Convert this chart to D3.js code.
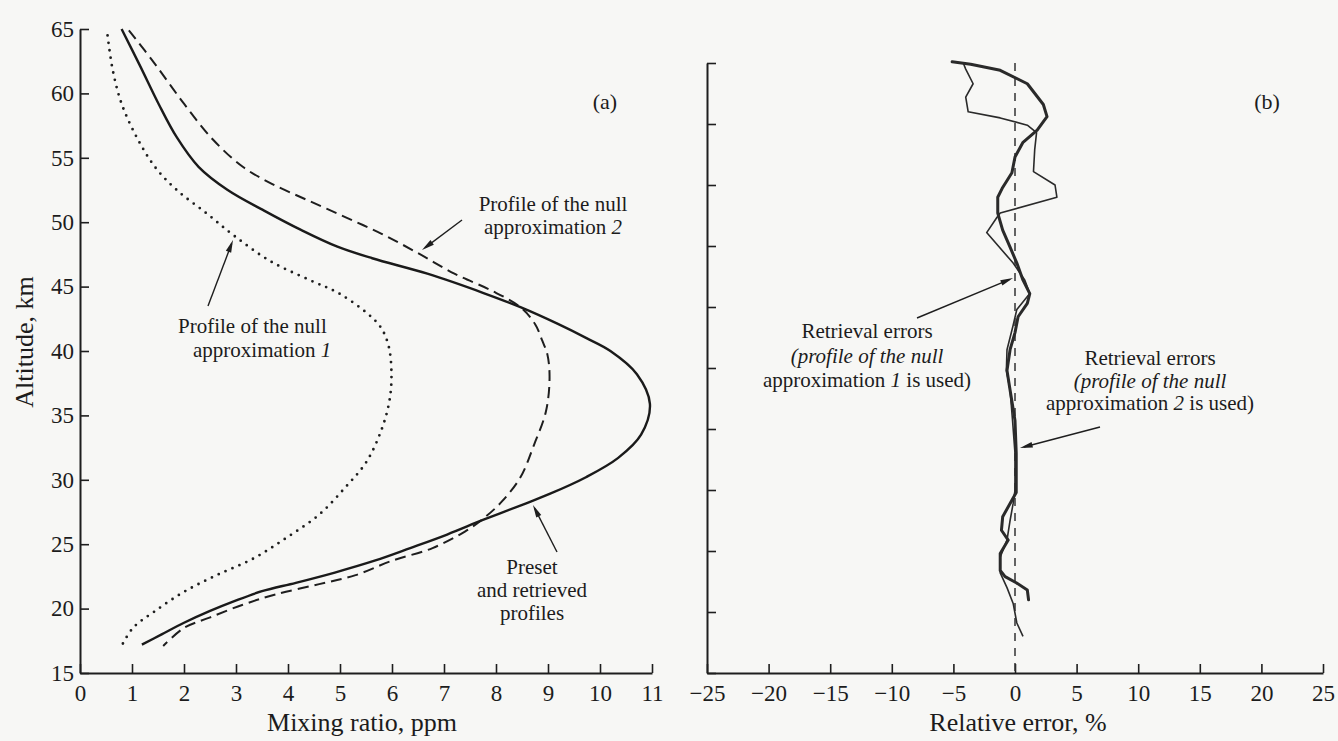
<!DOCTYPE html>
<html><head><meta charset="utf-8">
<script src="https://cdnjs.cloudflare.com/ajax/libs/d3/7.8.5/d3.min.js"></script>
<style>
html,body{margin:0;padding:0;background:#f7f7f5;}
svg{display:block;}
text{font-family:"Liberation Serif","Times New Roman",serif;fill:#1c1c1c;}
</style></head>
<body>
<script>
// ---------- DATA ----------
// Panel (a): mixing ratio (ppm) vs altitude (km)
const altPreset = [65, 62.1, 59.2, 56.6, 54.3, 52.5, 50.9, 49.4, 48.1, 47.2, 46.0, 44.5, 43.4, 42.1, 41.0, 40.0, 38.2, 35.9, 33.5, 31.7, 30.2, 28.9, 28.1, 26.9, 25.75, 24.7, 23.7, 22.8, 22.0, 21.35, 20.6, 19.8, 18.9, 18.0, 17.2];
const mixPreset = [0.80, 1.16, 1.51, 1.86, 2.28, 2.84, 3.54, 4.25, 4.95, 5.62, 6.68, 7.76, 8.47, 9.19, 9.74, 10.2, 10.71, 10.96, 10.79, 10.35, 9.73, 9.03, 8.53, 7.76, 7.06, 6.35, 5.65, 4.9, 4.15, 3.5, 2.98, 2.49, 2.0, 1.57, 1.19];

const altNull2 = [64.9, 62.3, 59.2, 56.4, 54.3, 53.0, 51.7, 50.4, 49.1, 47.6, 46.0, 44.7, 43.4, 42.1, 40.8, 39.7, 37.9, 35.3, 32.7, 30.2, 28.3, 27.0, 26.0, 24.7, 23.7, 22.6, 21.9, 21.1, 20.3, 19.3, 18.5, 17.1];
const mixNull2 = [0.94, 1.44, 2.0, 2.56, 3.13, 3.68, 4.38, 5.1, 5.8, 6.5, 7.2, 7.91, 8.47, 8.75, 8.89, 8.99, 9.03, 8.96, 8.73, 8.47, 8.11, 7.76, 7.41, 6.78, 5.99, 5.3, 4.6, 3.76, 3.13, 2.49, 2.0, 1.6];

const altNull1 = [64.5, 61.8, 59.2, 56.6, 54.3, 52.5, 50.7, 48.9, 47.0, 45.5, 44.5, 42.9, 41.8, 40.3, 37.9, 35.9, 33.8, 31.4, 29.4, 27.3, 25.5, 23.9, 22.6, 21.3, 19.8, 18.5, 17.1];
const mixNull1 = [0.53, 0.63, 0.8, 1.09, 1.44, 1.86, 2.43, 2.98, 3.65, 4.42, 4.97, 5.53, 5.79, 5.94, 5.99, 5.94, 5.79, 5.51, 5.1, 4.6, 3.97, 3.34, 2.63, 2.0, 1.44, 1.02, 0.8];

// Panel (b): relative error (%) vs altitude (km)
const altErr2 = [65.1, 64.9, 64.4, 63.3, 61.6, 60.6, 59.5, 58.5, 57.3, 56.0, 54.8, 54.0, 52.7, 51.3, 49.9, 48.6, 47.2, 46.1, 45.3, 44.2, 42.9, 41.5, 39.8, 38.2, 35.7, 33.0, 29.8, 28.9, 27.8, 26.7, 25.9, 24.8, 23.4, 22.9, 22.4, 21.8, 21.0];
const relErr2 = [-5.1, -3.6, -1.2, 1.0, 2.3, 2.6, 1.8, 0.65, 0.0, -0.25, -1.0, -1.4, -1.4, -1.0, -0.4, 0.15, 0.65, 1.2, 1.0, 0.25, 0.0, -0.4, -0.65, -0.4, 0.0, 0.1, 0.1, -0.4, -1.0, -1.1, -0.55, -1.2, -1.2, -0.8, 0.1, 1.0, 1.1];

const altErr1 = [65.0, 64.5, 63.3, 62.2, 61.0, 60.5, 59.9, 59.3, 57.9, 56.1, 55.0, 54.0, 52.7, 52.3, 51.1, 48.6, 47.2, 46.1, 44.8, 43.5, 41.5, 39.8, 38.2, 35.7, 33.0, 30.0, 28.9, 27.5, 25.9, 24.5, 23.2, 22.0, 20.7, 19.1, 18.0];
const relErr1 = [-4.2, -4.0, -3.4, -4.0, -3.8, -1.2, 1.0, 1.75, 1.6, 1.5, 3.25, 3.4, -1.2, -1.5, -2.3, -0.15, 0.8, 1.2, 0.15, -0.15, -0.65, -0.7, -0.4, -0.2, 0.0, 0.0, -0.15, -0.4, -0.65, -1.2, -1.2, -0.65, -0.15, 0.15, 0.65];

// Tick values
const altTicks = [15, 20, 25, 30, 35, 40, 45, 50, 55, 60, 65];
const mixTicks = [0, 1, 2, 3, 4, 5, 6, 7, 8, 9, 10, 11];
const errTicks = [-25, -20, -15, -10, -5, 0, 5, 10, 15, 20, 25];

// ---------- CHART ----------
const W = 1338, H = 741, ink = "#1e1e1e";
const svg = d3.select("body").append("svg").attr("width", W).attr("height", H);

const xA = d3.scaleLinear().domain([0, 11]).range([80, 652]);
const yA = d3.scaleLinear().domain([15, 65]).range([673, 29]);
const xB = d3.scaleLinear().domain([-25, 25]).range([707, 1323]);
const yB = d3.scaleLinear().domain([15, 65]).range([673, 63]);

function styleAxis(g, fs) {
  g.selectAll("path.domain").attr("stroke", ink).attr("stroke-width", 2);
  g.selectAll(".tick line").attr("stroke", ink).attr("stroke-width", 1.6);
  g.selectAll(".tick text").attr("font-size", fs).attr("fill", "#1c1c1c")
    .style("font-family", '"Liberation Serif", serif');
}

// Panel a axes
const gYa = svg.append("g").attr("transform", `translate(${xA(0)},0)`)
  .call(d3.axisLeft(yA).tickValues(altTicks).tickSizeInner(-9).tickSizeOuter(0).tickPadding(6).tickFormat(d3.format("d")));
styleAxis(gYa, 23);
const gXa = svg.append("g").attr("transform", `translate(0,${yA(15)})`)
  .call(d3.axisBottom(xA).tickValues(mixTicks).tickSizeInner(-9).tickSizeOuter(0).tickPadding(12).tickFormat(d3.format("d")));
styleAxis(gXa, 23);

// Panel b axes
const gYb = svg.append("g").attr("transform", `translate(${xB(-25)},0)`)
  .call(d3.axisLeft(yB).tickValues(altTicks).tickSizeInner(-9).tickSizeOuter(0).tickFormat(""));
styleAxis(gYb, 23);
const gXb = svg.append("g").attr("transform", `translate(0,${yB(15)})`)
  .call(d3.axisBottom(xB).tickValues(errTicks).tickSizeInner(-9).tickSizeOuter(0).tickPadding(12)
    .tickFormat(d => d < 0 ? "\u2212" + Math.abs(d) : String(d)));
styleAxis(gXb, 23);

// Axis titles
svg.append("text").attr("transform", `translate(33,342) rotate(-90)`).attr("text-anchor", "middle")
  .attr("font-size", 26).text("Altitude, km");
svg.append("text").attr("x", 362).attr("y", 731).attr("text-anchor", "middle")
  .attr("font-size", 26).text("Mixing ratio, ppm");
svg.append("text").attr("x", 1018).attr("y", 731).attr("text-anchor", "middle")
  .attr("font-size", 26).text("Relative error, %");

// Panel letters
svg.append("text").attr("x", 605).attr("y", 109).attr("text-anchor", "middle").attr("font-size", 22).text("(a)");
svg.append("text").attr("x", 1267).attr("y", 109).attr("text-anchor", "middle").attr("font-size", 22).text("(b)");

// Profiles in panel a
const lineA = d3.line().x(d => xA(d[0])).y(d => yA(d[1])).curve(d3.curveCatmullRom.alpha(0.5));
svg.append("path").attr("d", lineA(d3.zip(mixNull1, altNull1))).attr("fill", "none")
  .attr("stroke", "#1e1e1e").attr("stroke-width", 2.8).attr("stroke-linecap", "round").attr("stroke-dasharray", "0 7.5");
svg.append("path").attr("d", lineA(d3.zip(mixNull2, altNull2))).attr("fill", "none")
  .attr("stroke", "#1e1e1e").attr("stroke-width", 2).attr("stroke-dasharray", "11 6");
svg.append("path").attr("d", lineA(d3.zip(mixPreset, altPreset))).attr("fill", "none")
  .attr("stroke", "#1a1a1a").attr("stroke-width", 2.4);

// Panel b
svg.append("line").attr("x1", xB(0)).attr("x2", xB(0)).attr("y1", yB(65)).attr("y2", yB(15))
  .attr("stroke", "#333").attr("stroke-width", 1.5).attr("stroke-dasharray", "8 7");
const lineB = d3.line().x(d => xB(d[0])).y(d => yB(d[1])).curve(d3.curveLinear);
svg.append("path").attr("d", lineB(d3.zip(relErr1, altErr1))).attr("fill", "none")
  .attr("stroke", "#2a2a2a").attr("stroke-width", 1.6).attr("stroke-linejoin", "round");
svg.append("path").attr("d", lineB(d3.zip(relErr2, altErr2))).attr("fill", "none")
  .attr("stroke", "#2a2a2a").attr("stroke-width", 3).attr("stroke-linejoin", "round").attr("stroke-linecap", "round");

// Arrow helper
function arrow(x1, y1, x2, y2) {
  const ang = Math.atan2(y2 - y1, x2 - x1), L = 13, w = 0.22;
  svg.append("line").attr("x1", x1).attr("y1", y1).attr("x2", x2 - Math.cos(ang) * 4).attr("y2", y2 - Math.sin(ang) * 4)
    .attr("stroke", ink).attr("stroke-width", 1.4);
  const p1 = [x2 - L * Math.cos(ang - w), y2 - L * Math.sin(ang - w)];
  const p2 = [x2 - L * Math.cos(ang + w), y2 - L * Math.sin(ang + w)];
  svg.append("path").attr("d", `M${x2},${y2}L${p1[0]},${p1[1]}L${p2[0]},${p2[1]}Z`).attr("fill", ink);
}

function label(lines, x, y, dy, anchor) {
  const t = svg.append("text").attr("font-size", 21).attr("text-anchor", anchor || "middle");
  lines.forEach((parts, i) => {
    const row = t.append("tspan").attr("x", Array.isArray(x) ? x[i] : x).attr("y", y + i * dy);
    parts.forEach(p => {
      const s = row.append("tspan").text(p.t);
      if (p.i) s.attr("font-style", "italic");
    });
  });
}

// Panel a annotations
label([[{t: "Profile of the null"}], [{t: "approximation "}, {t: "2", i: true}]], 553, 211, 23);
arrow(462, 220, 422, 250);
label([[{t: "Profile of the null"}], [{t: "approximation "}, {t: "1", i: true}]], [178, 193], 333, 24, "start");
arrow(208, 306, 233, 240);
label([[{t: "Preset"}], [{t: "and retrieved"}], [{t: "profiles"}]], 532, 574, 23);
arrow(557, 552, 533, 505);

// Panel b annotations
label([[{t: "Retrieval errors"}], [{t: "(profile of the null", i: true}],
       [{t: "approximation "}, {t: "1", i: true}, {t: " is used)"}]], 867, 338, 24.5);
arrow(917, 318, 1013, 278);
label([[{t: "Retrieval errors"}], [{t: "(profile of the null", i: true}],
       [{t: "approximation "}, {t: "2", i: true}, {t: " is used)"}]], 1150, 365, 22.5);
arrow(1100, 427, 1020, 448);
</script>
</body></html>
